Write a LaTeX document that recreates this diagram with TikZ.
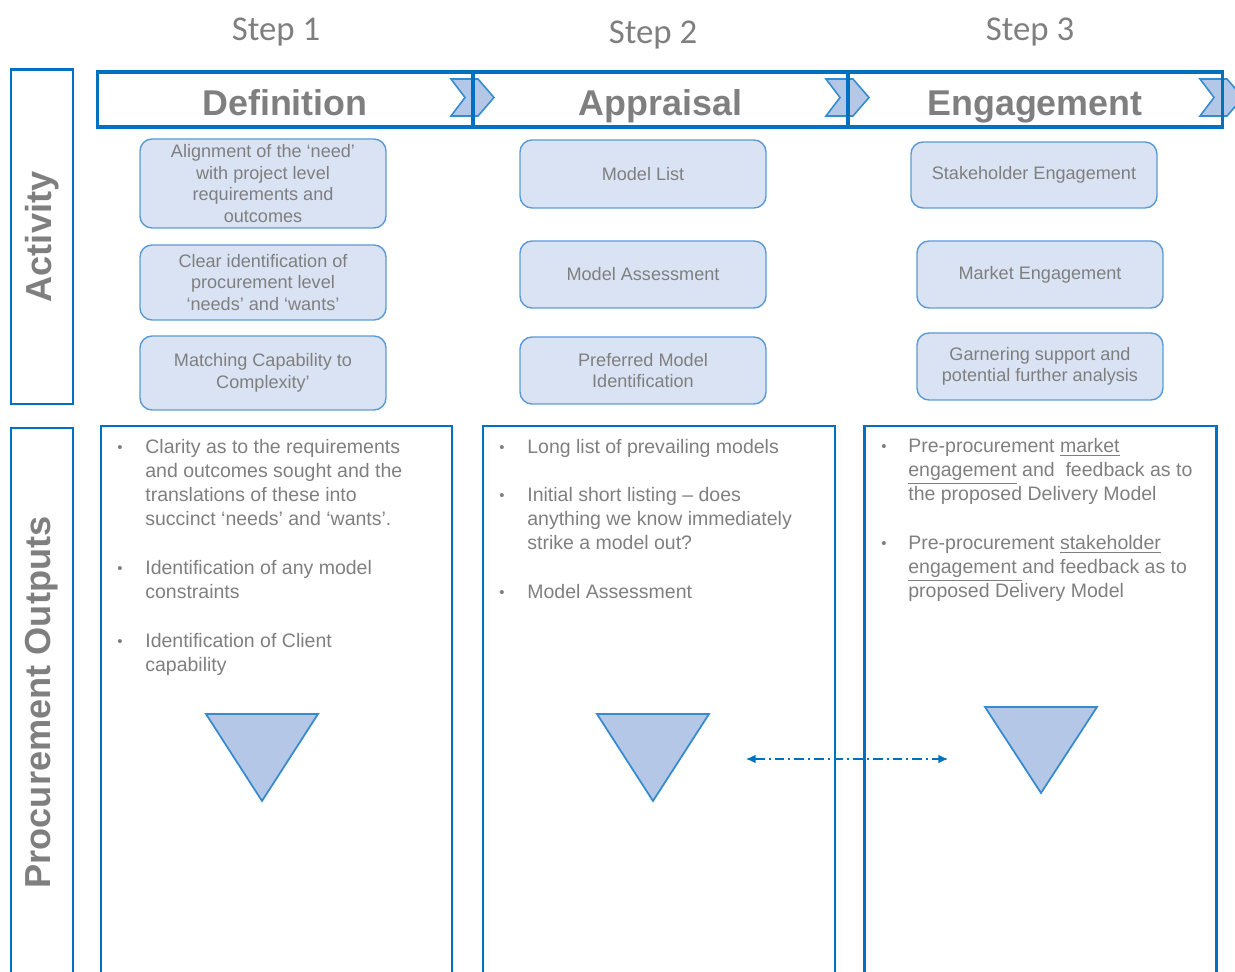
\documentclass[tikz,border=0pt]{standalone}
\usepackage{fontspec}
\setmainfont{Liberation Sans}
\newfontfamily\stepfont{Carlito}
\usetikzlibrary{arrows.meta}
\definecolor{pblue}{HTML}{0070C0}
\definecolor{lblue}{HTML}{DAE3F3}
\definecolor{mblue}{HTML}{B4C7E7}
\definecolor{eblue}{HTML}{5B9BD5}
\definecolor{txtgray}{HTML}{7F7F7F}
\newcommand{\pu}{0.02cm}
\tikzset{
  steplbl/.style={text=txtgray, font=\stepfont\fontsize{19.8}{24}\selectfont},
  hdrbox/.style={draw=pblue, line width=2.2pt, minimum width=375*\pu, minimum height=55*\pu, inner sep=0pt, text height=22pt, text depth=3.3pt, text=txtgray, font=\bfseries\fontsize{20.4}{24}\selectfont},
  sidebox/.style={draw=pblue, line width=1.7pt, rotate=90, inner sep=0pt, minimum height=62*\pu, text=txtgray, font=\bfseries\fontsize{20.6}{24}\selectfont},
  actbox/.style={draw=eblue, fill=lblue, line width=0.8pt, rounded corners=0.24cm, minimum width=246*\pu, align=center, inner sep=0pt, text=txtgray, font=\fontsize{10.3}{12.3}\selectfont},
  outbox/.style={draw=pblue, line width=1.7pt},
  chev/.style={draw=pblue!80, fill=mblue, line width=0.9pt},
  tri/.style={draw=eblue!60!pblue, fill=mblue, line width=1pt},
  btxt/.style={anchor=north west, align=left, inner sep=0pt, text=txtgray, font=\fontsize{11.1}{13.6}\selectfont},
  bdot/.style={inner sep=0pt, text=txtgray, font=\fontsize{8.5}{10}\selectfont},
  link/.style={pblue, line width=0.8pt, {Latex[length=5.5pt,width=5pt]}-{Latex[length=5.5pt,width=5pt]}, dash pattern=on 5.5pt off 2.3pt on 1.1pt off 2.3pt},
}
\begin{document}
\begin{tikzpicture}[x=0.02cm, y=-0.02cm]
\useasboundingbox (0,0) rectangle (1235,972);
\clip (0,0) rectangle (1235,972);

% step titles
\node[steplbl] (s1) at (276,32) {Step 1};
\node[steplbl] (s2) at (653,35) {Step 2};
\node[steplbl] (s3) at (1030,32) {Step 3};

% chevrons, under the header band
\foreach \b in {451,826,1200}
  \draw[chev] (\b,79) -- ++(27,0) -- ++(16,18.5) -- ++(-16,18.5) -- ++(-27,0) -- ++(14,-18.5) -- cycle;

% header band
\node[hdrbox] (def) at (285,99.5) {Definition};
\node[hdrbox] (app) at (660.5,99.5) {Appraisal};
\node[hdrbox] (eng) at (1035,99.5) {Engagement};

% side labels
\node[sidebox, minimum width=334*\pu] (act) at (42,237) {Activity};
\node[sidebox, minimum width=549*\pu] (proc) at (42,702.5) {Procurement Outputs};

% activity boxes
\node[actbox, minimum height=89*\pu] (a11) at (263,183.5) {Alignment of the ‘need’\\with  project level\\requirements and\\outcomes};
\node[actbox, minimum height=75*\pu] (a12) at (263,282.5) {Clear identification of\\procurement level\\‘needs’ and ‘wants’};
\node[actbox, minimum height=74*\pu] (a13) at (263,373) {Matching Capability to\\Complexity’};
\node[actbox, minimum height=68*\pu] (a21) at (643,174) {Model List};
\node[actbox, minimum height=67*\pu] (a22) at (643,274.5) {Model Assessment};
\node[actbox, minimum height=67*\pu] (a23) at (643,370.5) {Preferred Model\\Identification};
\node[actbox, minimum height=66*\pu] (a31) at (1034,175) {Stakeholder Engagement};
\node[actbox, minimum height=67*\pu] (a32) at (1040,274.5) {Market Engagement};
\node[actbox, minimum height=67*\pu] (a33) at (1040,366.5) {Garnering support and\\potential further analysis};

% output boxes
\draw[outbox] (101,426) rectangle (452,990);
\draw[outbox] (483,426) rectangle (835,990);
\draw[outbox] (864,426) rectangle (1216,990);

% bullets
\node[bdot] (d11) at (120,449) {•};
\node[btxt] (b11) at (145,439) {Clarity as to the requirements\\and outcomes sought and the\\translations of these into\\succinct ‘needs’ and ‘wants’.};
\node[bdot] (d12) at (120,570) {•};
\node[btxt] (b12) at (145,560) {Identification of any model\\constraints};
\node[bdot] (d13) at (120,643) {•};
\node[btxt] (b13) at (145,633) {Identification of Client\\capability};

\node[bdot] (d21) at (502,449) {•};
\node[btxt] (b21) at (527,439) {Long list of prevailing models};
\node[bdot] (d22) at (502,497) {•};
\node[btxt] (b22) at (527,487) {Initial short listing -- does\\anything we know immediately\\strike a model out?};
\node[bdot] (d23) at (502,594) {•};
\node[btxt] (b23) at (527,584) {Model Assessment};

\node[bdot] (d31) at (884,448) {•};
\node[btxt] (b31) at (908,438) {Pre-procurement \underline{market}\\\underline{engagement} and \ feedback as to\\the proposed Delivery Model};
\node[bdot] (d32) at (884,545) {•};
\node[btxt] (b32) at (908,535) {Pre-procurement \underline{stakeholder}\\\underline{engagement\ }and feedback as to\\proposed Delivery Model};

% triangles
\draw[tri] (206,714) -- (318,714) -- (262,801) -- cycle;
\draw[tri] (597,714) -- (709,714) -- (653,801) -- cycle;
\draw[tri] (985,707) -- (1097,707) -- (1041,793) -- cycle;

% link between columns
\coordinate (al) at (746,759);
\coordinate (ar) at (948,759);
\draw[link] (al) -- (ar);
\end{tikzpicture}
\end{document}
